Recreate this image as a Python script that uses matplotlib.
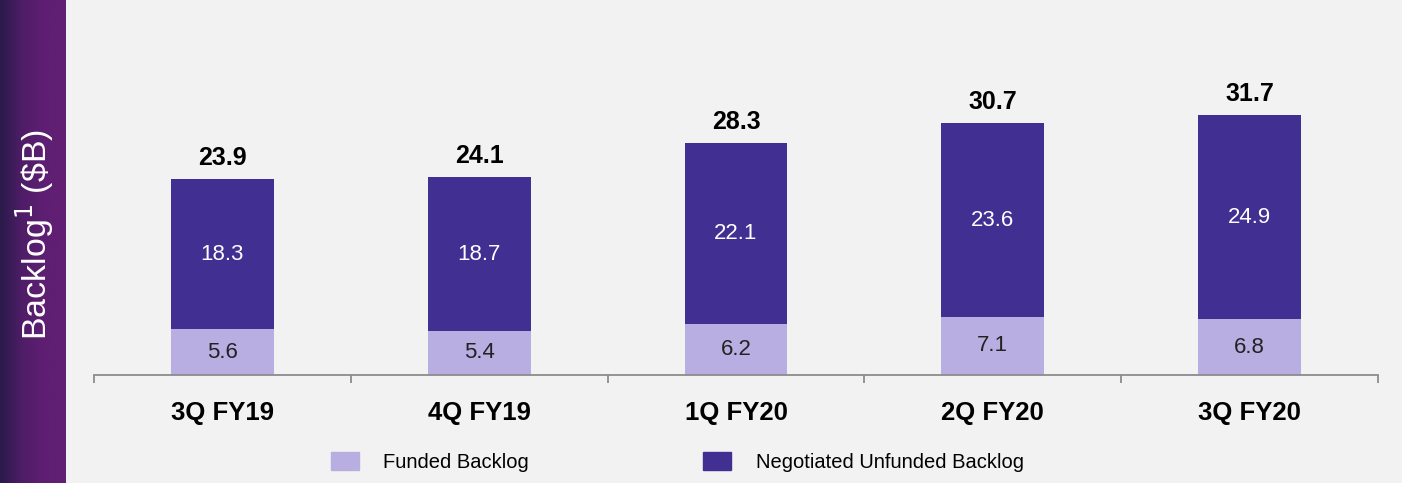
import numpy as np
import matplotlib.pyplot as plt
from matplotlib.patches import Patch
from matplotlib.colors import LinearSegmentedColormap

plt.rcParams['font.family'] = ['Liberation Sans', 'DejaVu Sans']

quarters = ['3Q FY19', '4Q FY19', '1Q FY20', '2Q FY20', '3Q FY20']
funded = [5.6, 5.4, 6.2, 7.1, 6.8]
unfunded = [18.3, 18.7, 22.1, 23.6, 24.9]
totals = [23.9, 24.1, 28.3, 30.7, 31.7]

c_funded = '#b9aee2'
c_unfunded = '#412f91'
bg = '#f2f2f2'

fig = plt.figure(figsize=(14.02, 4.83), dpi=100, facecolor=bg)

# purple band on the left
band = fig.add_axes([0, 0, 66 / 1402, 1])
grad = np.linspace(0, 1, 100).reshape(1, -1)
cmap = LinearSegmentedColormap.from_list('band', ['#2a1a4a', '#4f1d68', '#5e1f72', '#621f74'])
band.imshow(grad, aspect='auto', cmap=cmap, extent=[0, 1, 0, 1])
band.axis('off')
band.text(0.53, 0.515, r'Backlog$^{1}$ (\$B)', rotation=90, color='white',
          fontsize=24.5, ha='center', va='center', transform=band.transAxes)

ax = fig.add_axes([94 / 1402, (483 - 375) / 483, (1378 - 94) / 1402, 375 / 483])
ax.set_facecolor(bg)
x = np.arange(len(quarters))
w = 0.4
ax.bar(x, funded, width=w, color=c_funded, label='Funded Backlog')
ax.bar(x, unfunded, width=w, bottom=funded, color=c_unfunded, label='Negotiated Unfunded Backlog')

for i in range(len(quarters)):
    ax.text(x[i], funded[i] / 2, f'{funded[i]:.1f}', ha='center', va='center',
            fontsize=16, color='#222222')
    ax.text(x[i], funded[i] + unfunded[i] / 2, f'{unfunded[i]:.1f}', ha='center',
            va='center', fontsize=16, color='white')
    ax.text(x[i], totals[i] + 1.1, f'{totals[i]:.1f}', ha='center', va='bottom',
            fontsize=18, fontweight='bold', color='black')

ax.set_xlim(-0.5, len(quarters) - 0.5)
ax.set_ylim(0, 375 / 8.2)
for s in ['top', 'right', 'left']:
    ax.spines[s].set_visible(False)
ax.spines['bottom'].set_color('#8c8c8c')
ax.spines['bottom'].set_linewidth(1.3)
ax.set_yticks([])
ax.set_xticks(np.arange(-0.5, len(quarters), 1.0))
ax.set_xticklabels([])
ax.set_xticks(x, minor=True)
ax.set_xticklabels(quarters, minor=True, fontsize=18.5, fontweight='bold')
ax.tick_params(axis='x', which='major', length=6, color='#8c8c8c', width=1.3)
ax.tick_params(axis='x', which='minor', length=0, pad=19)

handles = [Patch(color=c_funded), Patch(color=c_unfunded)]
fig.legend(handles, ['Funded Backlog', 'Negotiated Unfunded Backlog'], ncol=2,
           loc='center', bbox_to_anchor=(0.483, 0.044), frameon=False, fontsize=14.5,
           handlelength=1.4, handleheight=1.0, handletextpad=1.2, columnspacing=8.65)

fig.savefig('out.png', dpi=100, facecolor=bg)
